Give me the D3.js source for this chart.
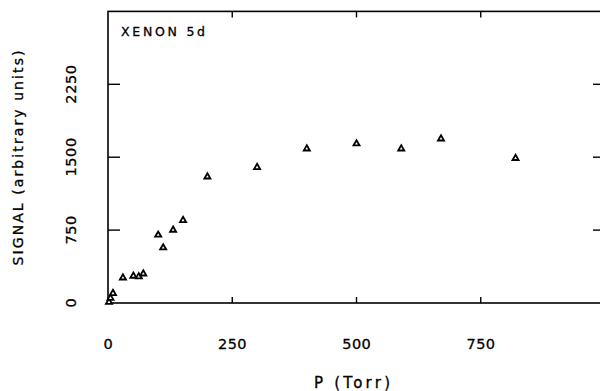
<!DOCTYPE html>
<html>
<head>
<meta charset="utf-8">
<script src="https://cdn.jsdelivr.net/npm/d3@7"></script>
<style>
  body { margin: 0; background: #fff; }
  text { font-family: "DejaVu Sans", sans-serif; fill: #000; stroke: #000; stroke-width: 0.3; }
</style>
</head>
<body>
<div id="chart"></div>
<script>
// xenon 5d signal vs pressure
var pressure = [2, 5, 10, 30, 51, 62, 71, 101, 111, 131, 151, 200, 300, 400, 500, 590, 670, 820]
var signal = [10, 50, 100, 260, 278, 271, 301, 700, 569, 751, 851, 1299, 1396, 1587, 1639, 1587, 1690, 1489]
var xTicks = [0, 250, 500, 750]
var yTicks = [0, 750, 1500, 2250]

var svgWidth = 600
var svgHeight = 391

var svg = d3.select("#chart")
    .append("svg")
    .attr("width", svgWidth)
    .attr("height", svgHeight)

var XScale = d3.scaleLinear().domain([0, 1000]).range([108, 605])
var YScale = d3.scaleLinear().domain([0, 3000]).range([303, 11.4])

// frame (right edge falls outside the picture)
svg.append("rect")
    .attr("x", XScale(0))
    .attr("y", YScale(3000))
    .attr("width", XScale(1000) - XScale(0))
    .attr("height", YScale(0) - YScale(3000))
    .attr("fill", "none")
    .attr("stroke", "#000")
    .attr("stroke-width", 1.6)

// ticks, all pointing inward
svg.selectAll(".xt-bot").data(xTicks.slice(1)).enter().append("line")
    .attr("x1", d => XScale(d)).attr("x2", d => XScale(d))
    .attr("y1", YScale(0)).attr("y2", YScale(0) - 6)
    .attr("stroke", "#000").attr("stroke-width", 1.4)
svg.selectAll(".xt-top").data(xTicks.slice(1)).enter().append("line")
    .attr("x1", d => XScale(d)).attr("x2", d => XScale(d))
    .attr("y1", YScale(3000)).attr("y2", YScale(3000) + 6)
    .attr("stroke", "#000").attr("stroke-width", 1.4)
svg.selectAll(".yt-left").data(yTicks.slice(1)).enter().append("line")
    .attr("x1", XScale(0)).attr("x2", XScale(0) + 12)
    .attr("y1", d => YScale(d)).attr("y2", d => YScale(d))
    .attr("stroke", "#000").attr("stroke-width", 1.4)
svg.selectAll(".yt-right").data(yTicks.slice(1)).enter().append("line")
    .attr("x1", XScale(1000)).attr("x2", XScale(1000) - 12)
    .attr("y1", d => YScale(d)).attr("y2", d => YScale(d))
    .attr("stroke", "#000").attr("stroke-width", 1.4)

// tick labels (plotter style: wide spacing)
svg.selectAll(".xl").data(xTicks).enter().append("text")
    .attr("x", d => XScale(d))
    .attr("y", 349)
    .attr("text-anchor", "middle")
    .attr("font-size", "14.5px")
    .attr("textLength", d => String(d).length * 10.2 - 2)
    .attr("lengthAdjust", "spacing")
    .text(d => d)
svg.selectAll(".yl").data(yTicks).enter().append("text")
    .attr("transform", d => `translate(76,${YScale(d)}) rotate(-90)`)
    .attr("text-anchor", "middle")
    .attr("font-size", "14.5px")
    .attr("textLength", d => String(d).length * 10.2 - 2)
    .attr("lengthAdjust", "spacing")
    .text(d => d)

// axis titles
svg.append("text")
    .attr("x", 352)
    .attr("y", 388)
    .attr("text-anchor", "middle")
    .attr("font-size", "15px")
    .attr("textLength", 76)
    .attr("lengthAdjust", "spacing")
    .text("P (Torr)")
svg.append("text")
    .attr("transform", "translate(23,158) rotate(-90)")
    .attr("text-anchor", "middle")
    .attr("font-size", "14px")
    .attr("textLength", 215)
    .attr("lengthAdjust", "spacing")
    .text("SIGNAL (arbitrary units)")

svg.append("text")
    .attr("x", 121)
    .attr("y", 36)
    .attr("font-size", "12.5px")
    .attr("textLength", 84)
    .attr("lengthAdjust", "spacing")
    .text("XENON 5d")

// points
svg.selectAll(".pt")
    .data(pressure.map((p, i) => ({p: p, s: signal[i]})))
    .enter()
    .append("path")
    .attr("d", d3.symbol().type(d3.symbolTriangle).size(16))
    .attr("transform", d => `translate(${XScale(d.p)},${YScale(d.s)})`)
    .attr("fill", "#fff")
    .attr("stroke", "#000")
    .attr("stroke-width", 1.8)
</script>
</body>
</html>
